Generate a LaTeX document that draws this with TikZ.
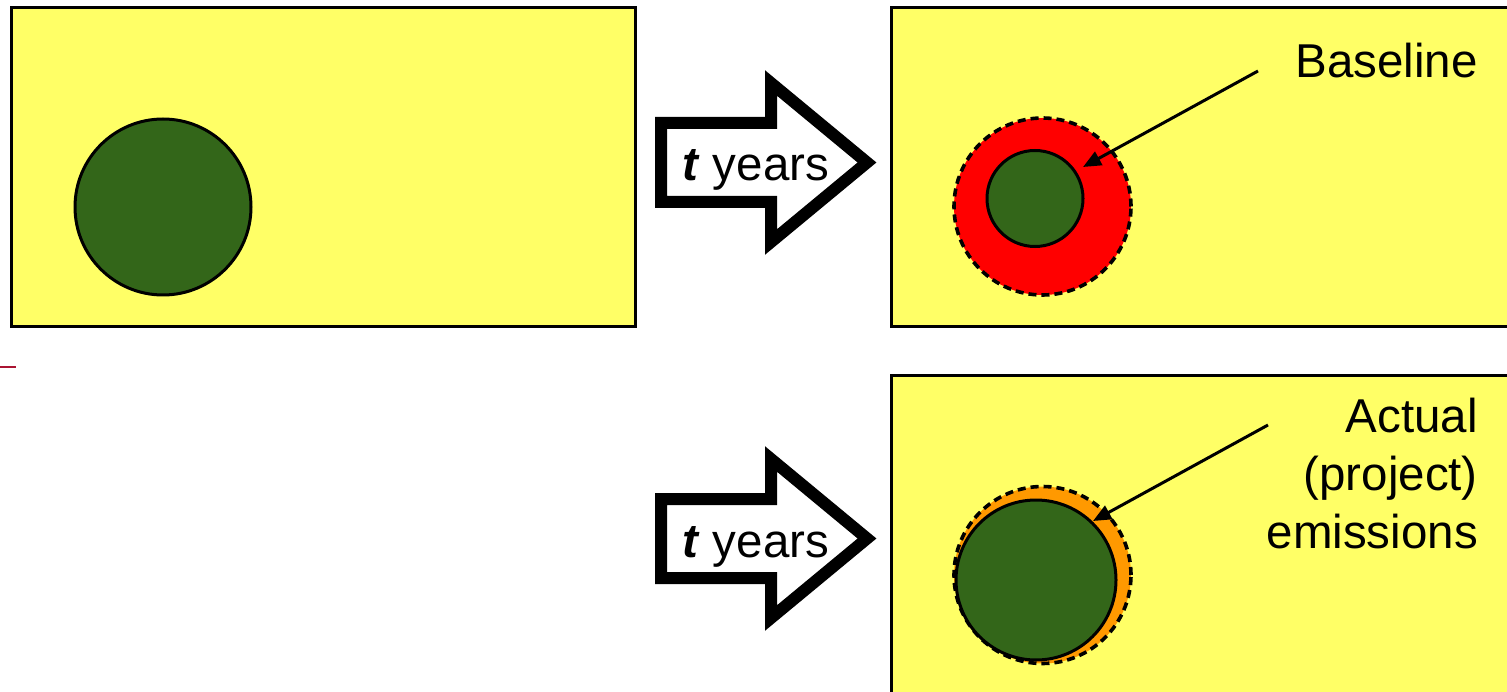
\documentclass[tikz,border=0pt]{standalone}
\usepackage{fontspec}
\setmainfont{Liberation Sans}
\usetikzlibrary{arrows.meta}

\definecolor{paper}{RGB}{255,255,102}
\definecolor{leaf}{RGB}{51,102,25}
\definecolor{ring}{RGB}{255,0,0}
\definecolor{halo}{RGB}{255,153,0}
\definecolor{tick}{RGB}{170,20,50}

\tikzset{
  panel/.style={draw=black, fill=paper, line width=3pt},
  disc/.style={circle, draw=black, fill=leaf, line width=3pt, inner sep=0pt},
  growth/.style={circle, draw=black, dash pattern=on 8pt off 5pt, line width=3.6pt, inner sep=0pt},
  blockarrow/.style={draw=black, fill=white, line width=12pt, miter limit=10},
  pointer/.style={draw=black, line width=3pt, -{Triangle[length=18pt,width=15pt]}},
  label/.style={font=\fontsize{47.5}{58}\selectfont, inner sep=0pt},
}

\begin{document}
\begin{tikzpicture}[x=1pt, y=-1pt]
  \useasboundingbox (0,0) rectangle (1507,692);
  \clip (0,0) rectangle (1507,692);

  % three scene panels
  \draw[panel] (11.5,7.5) rectangle (635,326.5);
  \draw[panel] (891,7.5) rectangle (1530,326.5);
  \draw[panel] (891,375.5) rectangle (1530,720);

  % short mark at the left edge
  \draw[tick, line width=1.5pt] (0,367) -- (16,367);

  % initial state
  \node[disc, minimum size=176pt] (start) at (163,207) {};

  % baseline scenario: red growth around the original area
  \node[growth, fill=ring, minimum size=177pt] (rgrow) at (1042.5,206.5) {};
  \node[disc, minimum size=96pt] (inner) at (1035,198.5) {};

  % project scenario: small orange growth
  \node[growth, fill=halo, minimum size=177pt] (ogrow) at (1042.5,575) {};
  \node[disc, minimum size=160pt] (actual) at (1036,580) {};

  % block arrows for the elapsed time
  \foreach \dy/\nm in {0/top, 376/bot}{
    \begin{scope}[yshift=-\dy pt]
      \draw[blockarrow] (661,123) -- (771,123) -- (771,83) -- (867,162.5)
        -- (771,242) -- (771,202) -- (661,202) -- cycle;
      \node[label, anchor=base west] (years\nm) at (682,181)
        {\textbf{\textit{t}} years};
    \end{scope}
  }

  % labels and pointers
  \node[label, anchor=base east] (baselbl) at (1478,78) {Baseline};
  \node[label, anchor=north east, align=right] (actlbl) at (1478,398)
    {Actual\\(project)\\emissions};

  \coordinate (bfrom) at (1258,71);
  \coordinate (bto) at (1083,167);
  \coordinate (afrom) at (1268,425);
  \coordinate (ato) at (1093,521);
  \draw[pointer] (bfrom) -- (bto);
  \draw[pointer] (afrom) -- (ato);
\end{tikzpicture}
\end{document}
